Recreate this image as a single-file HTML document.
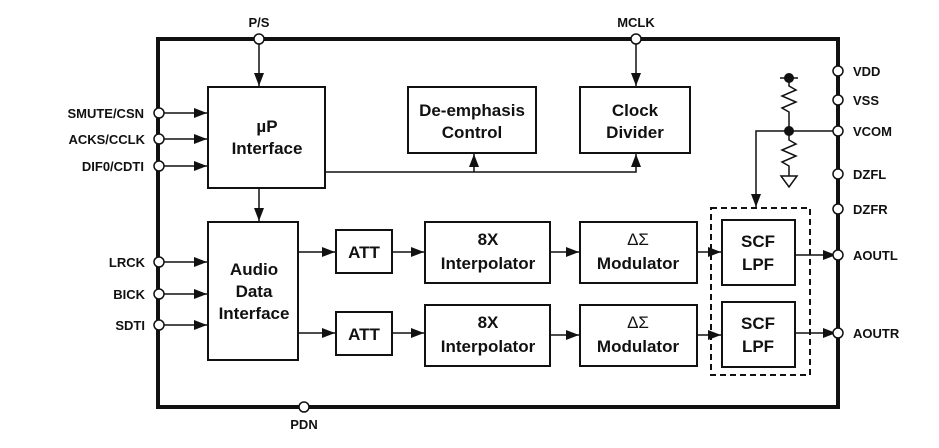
<!DOCTYPE html>
<html><head><style>
body{margin:0;background:#fff}
svg{display:block}
text{font-family:"Liberation Sans",Arial,sans-serif;font-weight:bold;fill:#111}
</style></head><body>
<svg width="939" height="448" viewBox="0 0 939 448">
<defs>
<marker id="a" markerWidth="13" markerHeight="10" refX="13" refY="5" orient="auto" markerUnits="userSpaceOnUse">
<path d="M0,0 L13,5 L0,10 z" fill="#111"/></marker>
</defs>
<g stroke="#111" fill="none">
<rect x="158" y="39" width="680" height="368" stroke-width="4"/>
<g stroke-width="2">
<rect x="208" y="87" width="117" height="101"/>
<rect x="408" y="87" width="128" height="66"/>
<rect x="580" y="87" width="110" height="66"/>
<rect x="208" y="222" width="90" height="138"/>
<rect x="336" y="230" width="56" height="43"/>
<rect x="336" y="312" width="56" height="43"/>
<rect x="425" y="222" width="125" height="61"/>
<rect x="425" y="305" width="125" height="61"/>
<rect x="580" y="222" width="117" height="61"/>
<rect x="580" y="305" width="117" height="61"/>
<rect x="722" y="220" width="73" height="65"/>
<rect x="722" y="302" width="73" height="65"/>
</g>
<rect x="711" y="208" width="99" height="167" stroke-width="2" stroke-dasharray="6,4"/>
<g stroke-width="1.5">
<line x1="259" y1="39" x2="259" y2="86" marker-end="url(#a)"/>
<line x1="636" y1="39" x2="636" y2="86" marker-end="url(#a)"/>
<line x1="159" y1="113" x2="207" y2="113" marker-end="url(#a)"/>
<line x1="159" y1="139" x2="207" y2="139" marker-end="url(#a)"/>
<line x1="159" y1="166" x2="207" y2="166" marker-end="url(#a)"/>
<polyline points="325,172 636,172 636,154" marker-end="url(#a)"/>
<line x1="474" y1="172" x2="474" y2="154" marker-end="url(#a)"/>
<line x1="259" y1="188" x2="259" y2="221" marker-end="url(#a)"/>
<line x1="159" y1="262" x2="207" y2="262" marker-end="url(#a)"/>
<line x1="159" y1="294" x2="207" y2="294" marker-end="url(#a)"/>
<line x1="159" y1="325" x2="207" y2="325" marker-end="url(#a)"/>
<line x1="298" y1="252" x2="335" y2="252" marker-end="url(#a)"/>
<line x1="298" y1="333" x2="335" y2="333" marker-end="url(#a)"/>
<line x1="392" y1="252" x2="424" y2="252" marker-end="url(#a)"/>
<line x1="392" y1="333" x2="424" y2="333" marker-end="url(#a)"/>
<line x1="550" y1="252" x2="579" y2="252" marker-end="url(#a)"/>
<line x1="550" y1="335" x2="579" y2="335" marker-end="url(#a)"/>
<line x1="697" y1="252" x2="721" y2="252" marker-end="url(#a)"/>
<line x1="697" y1="335" x2="721" y2="335" marker-end="url(#a)"/>
<line x1="795" y1="255" x2="836" y2="255" marker-end="url(#a)"/>
<line x1="795" y1="333" x2="836" y2="333" marker-end="url(#a)"/>
<line x1="789" y1="131" x2="838" y2="131"/>
<polyline points="789,131 756,131 756,207" marker-end="url(#a)"/>
<line x1="780" y1="78" x2="798" y2="78"/>
<polyline points="789,78 789,86 796,90 782,96 796,102 782,108 789,112 789,131 789,140 796,144 782,150 796,156 782,162 789,166 789,176"/>
<polygon points="781,176 797,176 789,187"/>
</g>
<g fill="#111" stroke="none">
<circle cx="789" cy="78" r="5"/><circle cx="789" cy="131" r="5"/>
</g>
<g fill="#fff" stroke-width="1.5">
<circle cx="259" cy="39" r="5"/><circle cx="636" cy="39" r="5"/><circle cx="304" cy="407" r="5"/>
<circle cx="159" cy="113" r="5"/><circle cx="159" cy="139" r="5"/><circle cx="159" cy="166" r="5"/>
<circle cx="159" cy="262" r="5"/><circle cx="159" cy="294" r="5"/><circle cx="159" cy="325" r="5"/>
<circle cx="838" cy="71" r="5"/><circle cx="838" cy="100" r="5"/><circle cx="838" cy="131" r="5"/>
<circle cx="838" cy="174" r="5"/><circle cx="838" cy="209" r="5"/>
<circle cx="838" cy="255" r="5"/><circle cx="838" cy="333" r="5"/>
</g>
</g>
<g font-size="13">
<text x="259" y="27" text-anchor="middle">P/S</text>
<text x="636" y="27" text-anchor="middle">MCLK</text>
<text x="304" y="429" text-anchor="middle">PDN</text>
<text x="144" y="118" text-anchor="end">SMUTE/CSN</text>
<text x="145" y="144" text-anchor="end">ACKS/CCLK</text>
<text x="144" y="171" text-anchor="end">DIF0/CDTI</text>
<text x="145" y="267" text-anchor="end">LRCK</text>
<text x="145" y="299" text-anchor="end">BICK</text>
<text x="145" y="330" text-anchor="end">SDTI</text>
<text x="853" y="76">VDD</text><text x="853" y="105">VSS</text><text x="853" y="136">VCOM</text>
<text x="853" y="179">DZFL</text><text x="853" y="214">DZFR</text>
<text x="853" y="260">AOUTL</text><text x="853" y="338">AOUTR</text>
</g>
<g font-size="17" text-anchor="middle">
<text x="267" y="132">µP</text><text x="267" y="154">Interface</text>
<text x="472" y="116">De-emphasis</text><text x="472" y="138">Control</text>
<text x="635" y="116">Clock</text><text x="635" y="138">Divider</text>
<text x="254" y="275">Audio</text><text x="254" y="297">Data</text><text x="254" y="319">Interface</text>
<text x="364" y="258">ATT</text><text x="364" y="340">ATT</text>
<text x="488" y="245">8X</text><text x="488" y="269">Interpolator</text>
<text x="488" y="328">8X</text><text x="488" y="352">Interpolator</text>
<text x="638" y="245" style="font-weight:normal">ΔΣ</text><text x="638" y="269">Modulator</text>
<text x="638" y="328" style="font-weight:normal">ΔΣ</text><text x="638" y="352">Modulator</text>
<text x="758" y="247">SCF</text><text x="758" y="270">LPF</text>
<text x="758" y="329">SCF</text><text x="758" y="352">LPF</text>
</g>
</svg>
</body></html>
